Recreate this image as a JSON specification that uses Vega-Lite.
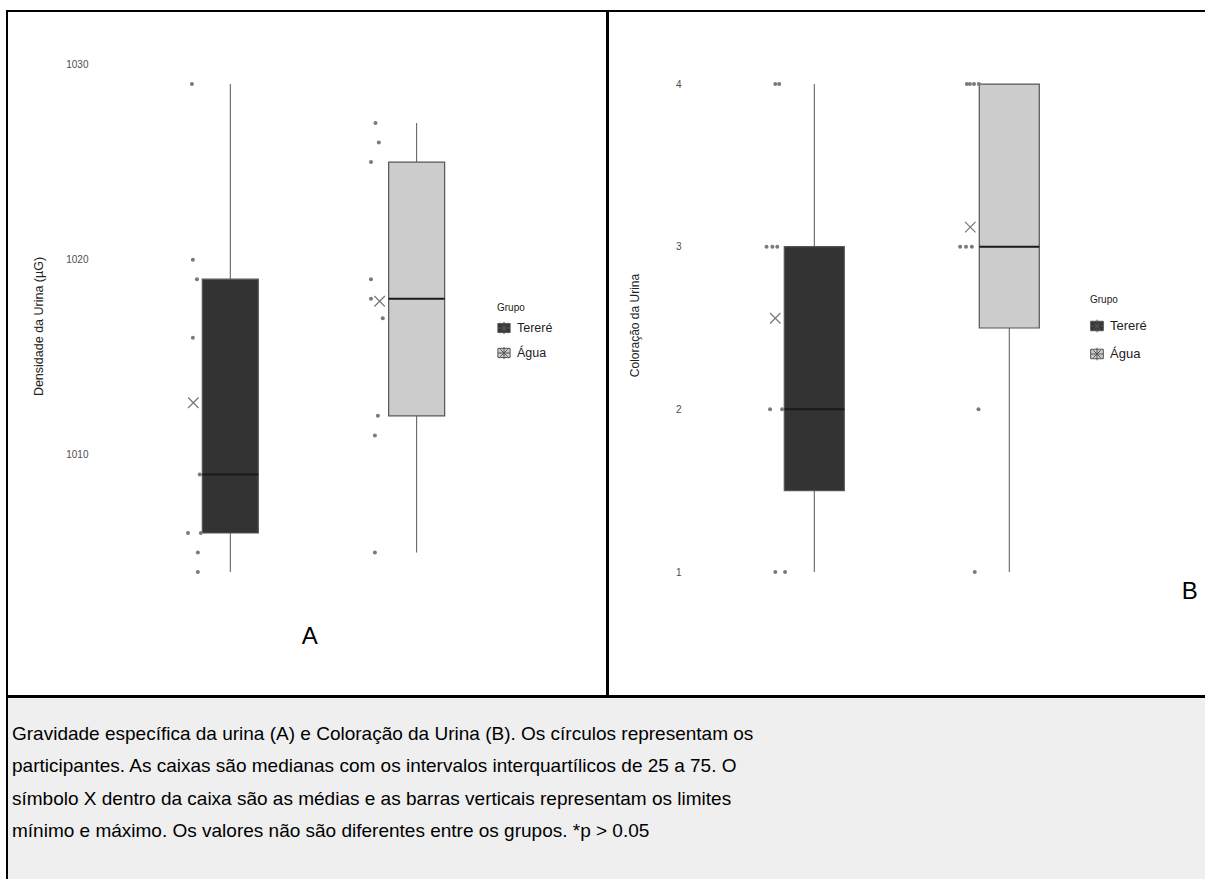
{
  "$schema": "https://vega.github.io/schema/vega-lite/v6.json",
  "padding": {"left": 6, "top": 10, "right": -3, "bottom": -4},
  "background": "white",
  "config": {
    "font": "Liberation Sans",
    "view": {"stroke": "black", "strokeWidth": 2, "fill": "white"},
    "axis": {"titleFontWeight": "normal"},
    "legend": {"titleFontWeight": "normal"}
  },
  "spacing": -2,
  "datasets": {
    "densidade_caixas": [
      {"grupo": "Tereré", "pos": 1, "min": 1004, "q1": 1006, "mediana": 1009, "q3": 1019, "max": 1029, "media": 1012.67},
      {"grupo": "Água", "pos": 2, "min": 1005, "q1": 1012, "mediana": 1018, "q3": 1025, "max": 1027, "media": 1017.87}
    ],
    "densidade_pontos": [
      {"grupo": "Tereré", "x": 0.794, "densidade": 1029},
      {"grupo": "Tereré", "x": 0.799, "densidade": 1020},
      {"grupo": "Tereré", "x": 0.821, "densidade": 1019},
      {"grupo": "Tereré", "x": 0.799, "densidade": 1016},
      {"grupo": "Tereré", "x": 0.836, "densidade": 1009},
      {"grupo": "Tereré", "x": 0.773, "densidade": 1006},
      {"grupo": "Tereré", "x": 0.842, "densidade": 1006},
      {"grupo": "Tereré", "x": 0.826, "densidade": 1005},
      {"grupo": "Tereré", "x": 0.826, "densidade": 1004},
      {"grupo": "Água", "x": 1.779, "densidade": 1027},
      {"grupo": "Água", "x": 1.797, "densidade": 1026},
      {"grupo": "Água", "x": 1.755, "densidade": 1025},
      {"grupo": "Água", "x": 1.755, "densidade": 1019},
      {"grupo": "Água", "x": 1.755, "densidade": 1018},
      {"grupo": "Água", "x": 1.818, "densidade": 1017},
      {"grupo": "Água", "x": 1.792, "densidade": 1012},
      {"grupo": "Água", "x": 1.776, "densidade": 1011},
      {"grupo": "Água", "x": 1.776, "densidade": 1005}
    ],
    "coloracao_caixas": [
      {"grupo": "Tereré", "pos": 1, "min": 1, "q1": 1.5, "mediana": 2, "q3": 3, "max": 4, "media": 2.56},
      {"grupo": "Água", "pos": 2, "min": 1, "q1": 2.5, "mediana": 3, "q3": 4, "max": 4, "media": 3.12}
    ],
    "coloracao_pontos": [
      {"grupo": "Tereré", "x": 0.8, "coloracao": 4},
      {"grupo": "Tereré", "x": 0.82, "coloracao": 4},
      {"grupo": "Tereré", "x": 0.755, "coloracao": 3},
      {"grupo": "Tereré", "x": 0.785, "coloracao": 3},
      {"grupo": "Tereré", "x": 0.81, "coloracao": 3},
      {"grupo": "Tereré", "x": 0.773, "coloracao": 2},
      {"grupo": "Tereré", "x": 0.835, "coloracao": 2},
      {"grupo": "Tereré", "x": 0.8, "coloracao": 1},
      {"grupo": "Tereré", "x": 0.85, "coloracao": 1},
      {"grupo": "Água", "x": 1.782, "coloracao": 4},
      {"grupo": "Água", "x": 1.798, "coloracao": 4},
      {"grupo": "Água", "x": 1.819, "coloracao": 4},
      {"grupo": "Água", "x": 1.844, "coloracao": 4},
      {"grupo": "Água", "x": 1.748, "coloracao": 3},
      {"grupo": "Água", "x": 1.778, "coloracao": 3},
      {"grupo": "Água", "x": 1.808, "coloracao": 3},
      {"grupo": "Água", "x": 1.842, "coloracao": 2},
      {"grupo": "Água", "x": 1.823, "coloracao": 1}
    ],
    "rotulo_a": [{"rotulo": "A"}],
    "rotulo_b": [{"rotulo": "B"}],
    "legenda": [
      {"linha": 1, "texto": "Gravidade específica da urina (A) e Coloração da Urina (B). Os círculos representam os"},
      {"linha": 2, "texto": "participantes. As caixas são medianas com os intervalos interquartílicos de 25 a 75. O"},
      {"linha": 3, "texto": "símbolo X dentro da caixa são as médias e as barras verticais representam os limites"},
      {"linha": 4, "texto": "mínimo e máximo. Os valores não são diferentes entre os grupos. *p > 0.05"}
    ]
  },
  "vconcat": [
    {
      "spacing": -2,
      "resolve": {
        "scale": {"x": "independent", "y": "independent", "fill": "independent"},
        "legend": {"fill": "independent"},
        "axis": {"y": "independent"}
      },
      "hconcat": [
        {
          "width": 600,
          "height": 685,
          "layer": [
            {
              "data": {"name": "densidade_caixas"},
              "mark": {"type": "rule", "color": "#555555", "strokeWidth": 1},
              "encoding": {
                "x": {"field": "pos", "type": "quantitative", "scale": {"domain": [-0.1715, 2.9947], "nice": false, "zero": false}, "axis": null},
                "y": {"field": "min", "type": "quantitative", "scale": {"domain": [997.65, 1032.74], "nice": false, "zero": false},
                  "axis": {"values": [1010, 1020, 1030], "format": "d", "offset": -85, "domain": false, "ticks": false, "grid": false, "labelPadding": 4, "labelFontSize": 10, "labelColor": "#4d4d4d", "title": "Densidade da Urina (µG)", "titleFontSize": 12.5, "titleColor": "#222222", "titlePadding": 20, "titleY": 315}},
                "y2": {"field": "max"}
              }
            },
            {
              "data": {"name": "densidade_caixas"},
              "mark": {"type": "bar", "orient": "vertical", "size": 56, "stroke": "#555555", "strokeWidth": 1.2},
              "encoding": {
                "x": {"field": "pos", "type": "quantitative"},
                "y": {"field": "q1", "type": "quantitative"},
                "y2": {"field": "q3"},
                "fill": {"field": "grupo", "type": "nominal", "scale": {"domain": ["Tereré", "Água"], "range": ["#333333", "#cccccc"]},
                  "legend": {"orient": "none", "legendX": 490, "legendY": 292, "title": "Grupo", "titleFontSize": 10, "titleColor": "#222222", "titlePadding": 8, "labelFontSize": 12.5, "labelColor": "#222222", "labelOffset": 6, "rowPadding": 7, "symbolSize": 150, "symbolType": "M-1,-0.75L1,-0.75L1,0.75L-1,0.75Z M0,-1L0,1 M-1,0L1,0 M-0.6,-0.6L0.6,0.6 M-0.6,0.6L0.6,-0.6", "symbolStrokeColor": "#555555", "symbolStrokeWidth": 1}}
              }
            },
            {
              "data": {"name": "densidade_caixas"},
              "mark": {"type": "tick", "orient": "horizontal", "size": 56, "thickness": 2, "color": "#1a1a1a", "opacity": 1},
              "encoding": {
                "x": {"field": "pos", "type": "quantitative"},
                "y": {"field": "mediana", "type": "quantitative"}
              }
            },
            {
              "data": {"name": "densidade_pontos"},
              "mark": {"type": "circle", "size": 16, "color": "#7a7a7a", "opacity": 1},
              "encoding": {
                "x": {"field": "x", "type": "quantitative"},
                "y": {"field": "densidade", "type": "quantitative"}
              }
            },
            {
              "data": {"name": "densidade_caixas"},
              "mark": {"type": "point", "shape": "M-1,-1L1,1M-1,1L1,-1", "size": 110, "filled": false, "stroke": "#777777", "strokeWidth": 1.2, "opacity": 1, "xOffset": -37},
              "encoding": {
                "x": {"field": "pos", "type": "quantitative"},
                "y": {"field": "media", "type": "quantitative"}
              }
            },
            {
              "data": {"name": "rotulo_a"},
              "mark": {"type": "text", "fontSize": 24, "color": "black", "align": "center", "baseline": "middle"},
              "encoding": {
                "x": {"datum": 1.427, "type": "quantitative"},
                "y": {"datum": 1000.67, "type": "quantitative"},
                "text": {"field": "rotulo"}
              }
            }
          ]
        },
        {
          "width": 600,
          "height": 685,
          "layer": [
            {
              "data": {"name": "coloracao_caixas"},
              "mark": {"type": "rule", "color": "#555555", "strokeWidth": 1},
              "encoding": {
                "x": {"field": "pos", "type": "quantitative", "scale": {"domain": [-0.0323, 2.9934], "nice": false, "zero": false}, "axis": null},
                "y": {"field": "min", "type": "quantitative", "scale": {"domain": [0.2377, 4.449], "nice": false, "zero": false},
                  "axis": {"values": [1, 2, 3, 4], "format": "d", "offset": -77, "domain": false, "ticks": false, "grid": false, "labelPadding": 4, "labelFontSize": 10, "labelColor": "#4d4d4d", "title": "Coloração da Urina", "titleFontSize": 12, "titleColor": "#222222", "titlePadding": 34, "titleY": 314}},
                "y2": {"field": "max"}
              }
            },
            {
              "data": {"name": "coloracao_caixas"},
              "mark": {"type": "bar", "orient": "vertical", "size": 60, "stroke": "#555555", "strokeWidth": 1.2},
              "encoding": {
                "x": {"field": "pos", "type": "quantitative"},
                "y": {"field": "q1", "type": "quantitative"},
                "y2": {"field": "q3"},
                "fill": {"field": "grupo", "type": "nominal", "scale": {"domain": ["Tereré", "Água"], "range": ["#333333", "#cccccc"]},
                  "legend": {"orient": "none", "legendX": 482, "legendY": 284, "title": "Grupo", "titleFontSize": 10, "titleColor": "#222222", "titlePadding": 14, "labelFontSize": 13, "labelColor": "#222222", "labelOffset": 6, "rowPadding": 10, "symbolSize": 160, "symbolType": "M-1,-0.75L1,-0.75L1,0.75L-1,0.75Z M0,-1L0,1 M-1,0L1,0 M-0.6,-0.6L0.6,0.6 M-0.6,0.6L0.6,-0.6", "symbolStrokeColor": "#555555", "symbolStrokeWidth": 1}}
              }
            },
            {
              "data": {"name": "coloracao_caixas"},
              "mark": {"type": "tick", "orient": "horizontal", "size": 60, "thickness": 2, "color": "#1a1a1a", "opacity": 1},
              "encoding": {
                "x": {"field": "pos", "type": "quantitative"},
                "y": {"field": "mediana", "type": "quantitative"}
              }
            },
            {
              "data": {"name": "coloracao_pontos"},
              "mark": {"type": "circle", "size": 16, "color": "#7a7a7a", "opacity": 1},
              "encoding": {
                "x": {"field": "x", "type": "quantitative"},
                "y": {"field": "coloracao", "type": "quantitative"}
              }
            },
            {
              "data": {"name": "coloracao_caixas"},
              "mark": {"type": "point", "shape": "M-1,-1L1,1M-1,1L1,-1", "size": 110, "filled": false, "stroke": "#777777", "strokeWidth": 1.2, "opacity": 1, "xOffset": -39},
              "encoding": {
                "x": {"field": "pos", "type": "quantitative"},
                "y": {"field": "media", "type": "quantitative"}
              }
            },
            {
              "data": {"name": "rotulo_b"},
              "mark": {"type": "text", "fontSize": 24, "color": "black", "align": "center", "baseline": "middle"},
              "encoding": {
                "x": {"datum": 2.925, "type": "quantitative"},
                "y": {"datum": 0.877, "type": "quantitative"},
                "text": {"field": "rotulo"}
              }
            }
          ]
        }
      ]
    },
    {
      "width": 1200,
      "height": 186,
      "view": {"fill": "#efefef", "stroke": "black", "strokeWidth": 2},
      "data": {"name": "legenda"},
      "mark": {"type": "text", "fontSize": 19, "color": "black", "align": "left", "baseline": "middle", "dx": 5},
      "encoding": {
        "x": {"datum": 0, "type": "quantitative", "scale": {"domain": [0, 1], "nice": false, "zero": false}, "axis": null},
        "y": {"field": "linha", "type": "quantitative", "scale": {"domain": [-0.1445, 5.609], "nice": false, "zero": false, "reverse": true}, "axis": null},
        "text": {"field": "texto"}
      }
    }
  ]
}
